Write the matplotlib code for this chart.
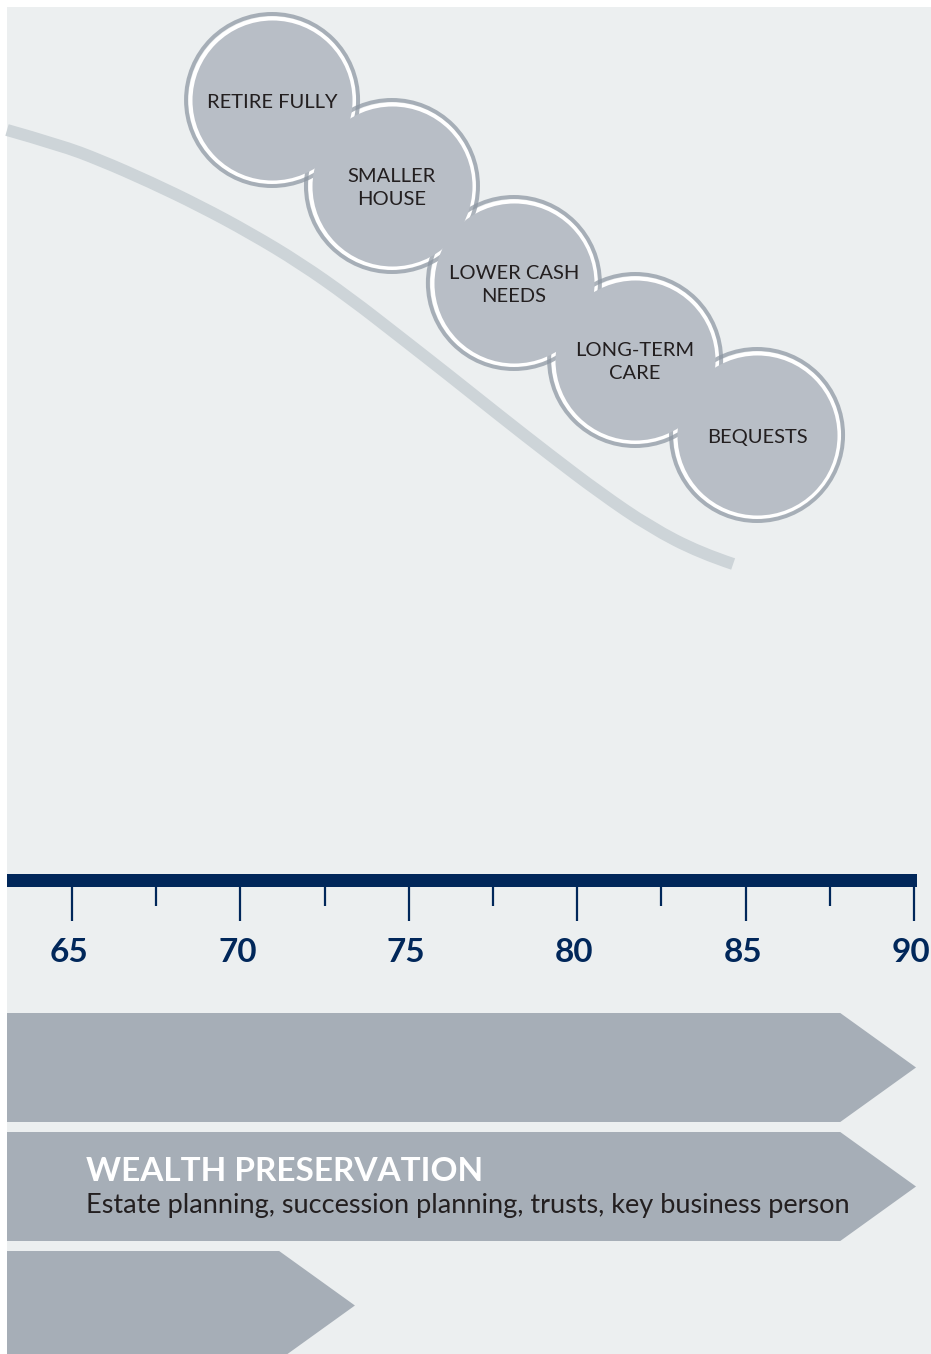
"""
Retirement life-stage timeline: wealth curve, life events and planning bands.
"""

import matplotlib
matplotlib.use("Agg")
import matplotlib.pyplot as plt
from matplotlib.patches import PathPatch, Polygon, Rectangle
from matplotlib.path import Path

# ages on the timeline
major_ages = [65, 70, 75, 80, 85, 90]
minor_ages = [67.5, 72.5, 77.5, 82.5, 87.5]
tick_labels = ["65", "70", "75", "80", "85", "90"]

# declining wealth curve (age, level measured downward from the top)
curve_age = [63.07, 64.64, 65.83, 67.32, 68.80, 70.29, 71.77, 73.25, 74.74,
             76.22, 77.71, 79.19, 80.68, 82.16, 83.65, 84.63]
curve_level = [130, 145, 160, 182, 206, 233, 263, 298, 337,
               376, 416, 455, 493, 527, 553, 564]

# life events
event_labels = ["RETIRE FULLY", "SMALLER\nHOUSE", "LOWER CASH\nNEEDS", "LONG-TERM\nCARE", "BEQUESTS"]
event_age = [70.94, 74.50, 78.12, 81.72, 85.34]
event_level = [100, 186, 283, 360, 435]

# planning bands (arrows)
band_end_age = [90.06, 90.06, 73.40]
band_titles = ["", "WEALTH PRESERVATION", ""]
band_texts = ["", "Estate planning, succession planning, trusts, key business person", ""]

BG = "#ECEFF0"
NAVY = "#01275A"
FILL = "#B8BEC6"
RING = "#8C96A1"
CURVE = "#CDD4D8"
BAND = "#A6AEB7"
INK = "#231F20"

W, H, DPI = 931, 1354, 100
PX_PER_YEAR = 33.68
X0_AGE = 65 - 72 / PX_PER_YEAR   # age at left pixel edge
LEFT_AGE = X0_AGE + 7 / PX_PER_YEAR


def px_area(diam_px):
    pts = diam_px * 72 / DPI
    return pts * pts


def smooth_path(xs, ys):
    # quadratic b-spline style path: read points act as control points
    pts = list(zip(xs, ys))
    verts, codes = [pts[0]], [Path.MOVETO]
    for i in range(1, len(pts) - 1):
        if i < len(pts) - 2:
            end = ((pts[i][0] + pts[i + 1][0]) / 2, (pts[i][1] + pts[i + 1][1]) / 2)
        else:
            end = pts[i + 1]
        verts += [pts[i], end]
        codes += [Path.CURVE3, Path.CURVE3]
    return Path(verts, codes)


def draw_events(ax):
    # white gaps first, then translucent rings, then the fills on top
    ax.scatter(event_age, event_level, s=px_area(168), color="white", lw=0, zorder=3)
    ax.scatter(event_age, event_level, s=px_area(172), facecolors="none",
               edgecolors=RING, linewidths=4 * 72 / DPI, alpha=0.72, zorder=4)
    ax.scatter(event_age, event_level, s=px_area(160), color=FILL, lw=0, zorder=5)
    for label, a, lv in zip(event_labels, event_age, event_level):
        lines = label.split("\n")
        n = len(lines)
        for i, line in enumerate(lines):
            y = lv + (i - (n - 1) / 2) * 23 + 7.5
            ax.text(a, y, line, ha="center", va="baseline", fontsize=14.5,
                    family="Lato", color=INK, zorder=6)


def draw_timeline(ax):
    ax.add_patch(Rectangle((LEFT_AGE, 874), 90.09 - LEFT_AGE, 13, color=NAVY, lw=0, zorder=3))
    ax.vlines(major_ages, 886, 921, color=NAVY, lw=1.6, zorder=3)
    ax.vlines(minor_ages, 886, 906, color=NAVY, lw=1.6, zorder=3)
    for a, lab in zip(major_ages, tick_labels):
        ax.text(a - 0.09, 962, lab, ha="center", va="baseline", fontsize=24,
                family="Lato", fontweight="bold", color=NAVY, zorder=3)


def draw_bands(ax):
    head = 2.25
    top, height, gap = 1013, 109, 10
    for i, end in enumerate(band_end_age):
        t = top + i * (height + gap)
        b = t + height
        verts = [(LEFT_AGE, t), (end - head, t), (end, t + height / 2),
                 (end - head, b), (LEFT_AGE, b)]
        ax.add_patch(Polygon(verts, closed=True, color=BAND, lw=0, zorder=2))
        if band_titles[i]:
            tx = 65 + (86 - 72) / PX_PER_YEAR
            ax.text(tx, t + 49, band_titles[i], ha="left", va="baseline",
                    fontsize=24, family="Lato", fontweight="bold", color="white", zorder=3)
            ax.text(tx, t + 81, band_texts[i], ha="left", va="baseline",
                    fontsize=19.5, family="Lato", color=INK, zorder=3)


def main():
    fig = plt.figure(figsize=(W / DPI, H / DPI), dpi=DPI, facecolor="white")
    fig.add_artist(Rectangle((7 / W, 0), 1, 1 - 7 / H, transform=fig.transFigure,
                             color=BG, lw=0, zorder=0))
    ax = fig.add_axes([0, 0, 1, 1])
    ax.set_axis_off()
    ax.patch.set_alpha(0)
    ax.set_xlim(X0_AGE, X0_AGE + W / PX_PER_YEAR)
    ax.set_ylim(H, 0)

    ax.add_patch(PathPatch(smooth_path(curve_age, curve_level), fill=False,
                           edgecolor=CURVE, lw=12 * 72 / DPI, capstyle="butt", zorder=1))
    draw_events(ax)
    draw_timeline(ax)
    draw_bands(ax)

    fig.savefig("out.png", dpi=DPI, facecolor="white")
    plt.close(fig)


if __name__ == "__main__":
    main()
